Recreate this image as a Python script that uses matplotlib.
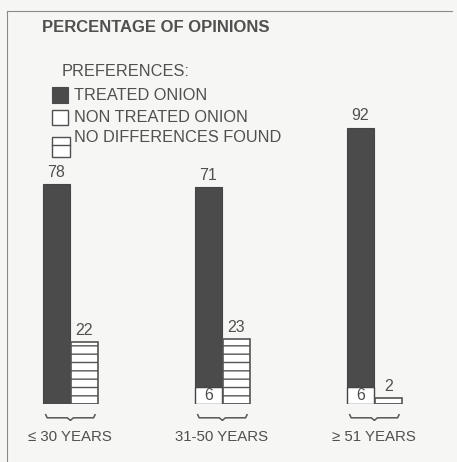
import matplotlib.pyplot as plt
from matplotlib.patches import Rectangle
from matplotlib.lines import Line2D

plt.rcParams['font.family'] = ['Liberation Sans', 'DejaVu Sans']
plt.rcParams['hatch.linewidth'] = 1.0

groups = ['\u2264 30 YEARS', '31-50 YEARS', '\u2265 51 YEARS']
treated = [78, 71, 92]
non_treated = [0, 6, 6]
no_diff = [22, 23, 2]
legend_labels = ['TREATED ONION', 'NON TREATED ONION', 'NO DIFFERENCES FOUND']

W, H = 457, 462
bg = '#f6f6f4'
ink = '#505050'
dark = '#4b4b4b'

fig = plt.figure(figsize=(W / 100, H / 100), dpi=100, facecolor=bg)


def fx(px):
    return px / W


def fy(py):
    return 1 - py / H


# frame: top and left edge only, like the scan
fig.add_artist(Line2D([fx(7), fx(452)], [fy(11), fy(11)], color='#8a8a8a', lw=0.8))
fig.add_artist(Line2D([fx(7), fx(7)], [fy(11), fy(462)], color='#8a8a8a', lw=0.8))

fig.text(fx(42), fy(27), 'PERCENTAGE OF OPINIONS', fontsize=12, fontweight='bold',
         color=ink, va='center', ha='left')

# legend
fig.text(fx(62), fy(72), 'PREFERENCES:', fontsize=11.8, color=ink, va='center')
leg_y = [95, 117, 138]
for lab, y in zip(legend_labels, leg_y):
    fig.text(fx(74), fy(y), lab, fontsize=11.8, color=ink, va='center')
fig.add_artist(Rectangle((fx(52), fy(103)), fx(16), 16 / H, facecolor=dark,
                         edgecolor=dark, lw=0.8, transform=fig.transFigure))
fig.add_artist(Rectangle((fx(52), fy(125)), fx(16), 15 / H, facecolor='white',
                         edgecolor=ink, lw=1.0, transform=fig.transFigure))
fig.add_artist(Rectangle((fx(52), fy(157)), fx(18), 20 / H, facecolor='white',
                         edgecolor=ink, lw=1.0, transform=fig.transFigure))
fig.add_artist(Line2D([fx(52), fx(70)], [fy(145), fy(145)], color=ink, lw=1.0))

# bars
ax = fig.add_axes([0, fy(404), 1, 282 / H])
ax.set_facecolor('none')
ax.set_xlim(-70 / 152, (W - 70) / 152)
ax.set_ylim(0, 100)
ax.axis('off')

x = list(range(len(groups)))
w = 0.18
xl = [i - w / 2 for i in x]
xr = [i + w / 2 + 0.005 for i in x]

ax.bar(xl, non_treated, w, color='white', edgecolor='#444444', lw=1.0)
ax.bar(xl, treated, w, bottom=non_treated, color=dark, edgecolor='#444444', lw=0.8)
ax.bar(xr, no_diff, w, color='white', edgecolor='#555555', lw=1.2, hatch='--')

for i in x:
    ax.annotate(str(treated[i]), (xl[i], treated[i] + non_treated[i]), xytext=(0, 3),
                textcoords='offset points', ha='center', va='bottom', fontsize=11.5, color=ink)
    ax.annotate(str(no_diff[i]), (xr[i], no_diff[i]), xytext=(0, 3),
                textcoords='offset points', ha='center', va='bottom', fontsize=11.5, color=ink)
    if non_treated[i]:
        ax.text(xl[i], non_treated[i] / 2, str(non_treated[i]), ha='center', va='center',
                fontsize=11.5, color=ink)
    # brace under each group
    bx0, bx1 = xl[i] - w / 2 + 0.02, xr[i] + w / 2 - 0.02
    bm = (bx0 + bx1) / 2
    ax.plot([bx0, bx0 + 0.01, bm - 0.02, bm, bm + 0.02, bx1 - 0.01, bx1],
            [-3.8, -4.9, -4.9, -5.8, -4.9, -4.9, -3.8],
            color='#555555', lw=1.1, clip_on=False)
    ax.text(i, -11.7, groups[i], ha='center', va='center', fontsize=10.8, color=ink)

fig.savefig('out.png', dpi=100, facecolor=bg)
